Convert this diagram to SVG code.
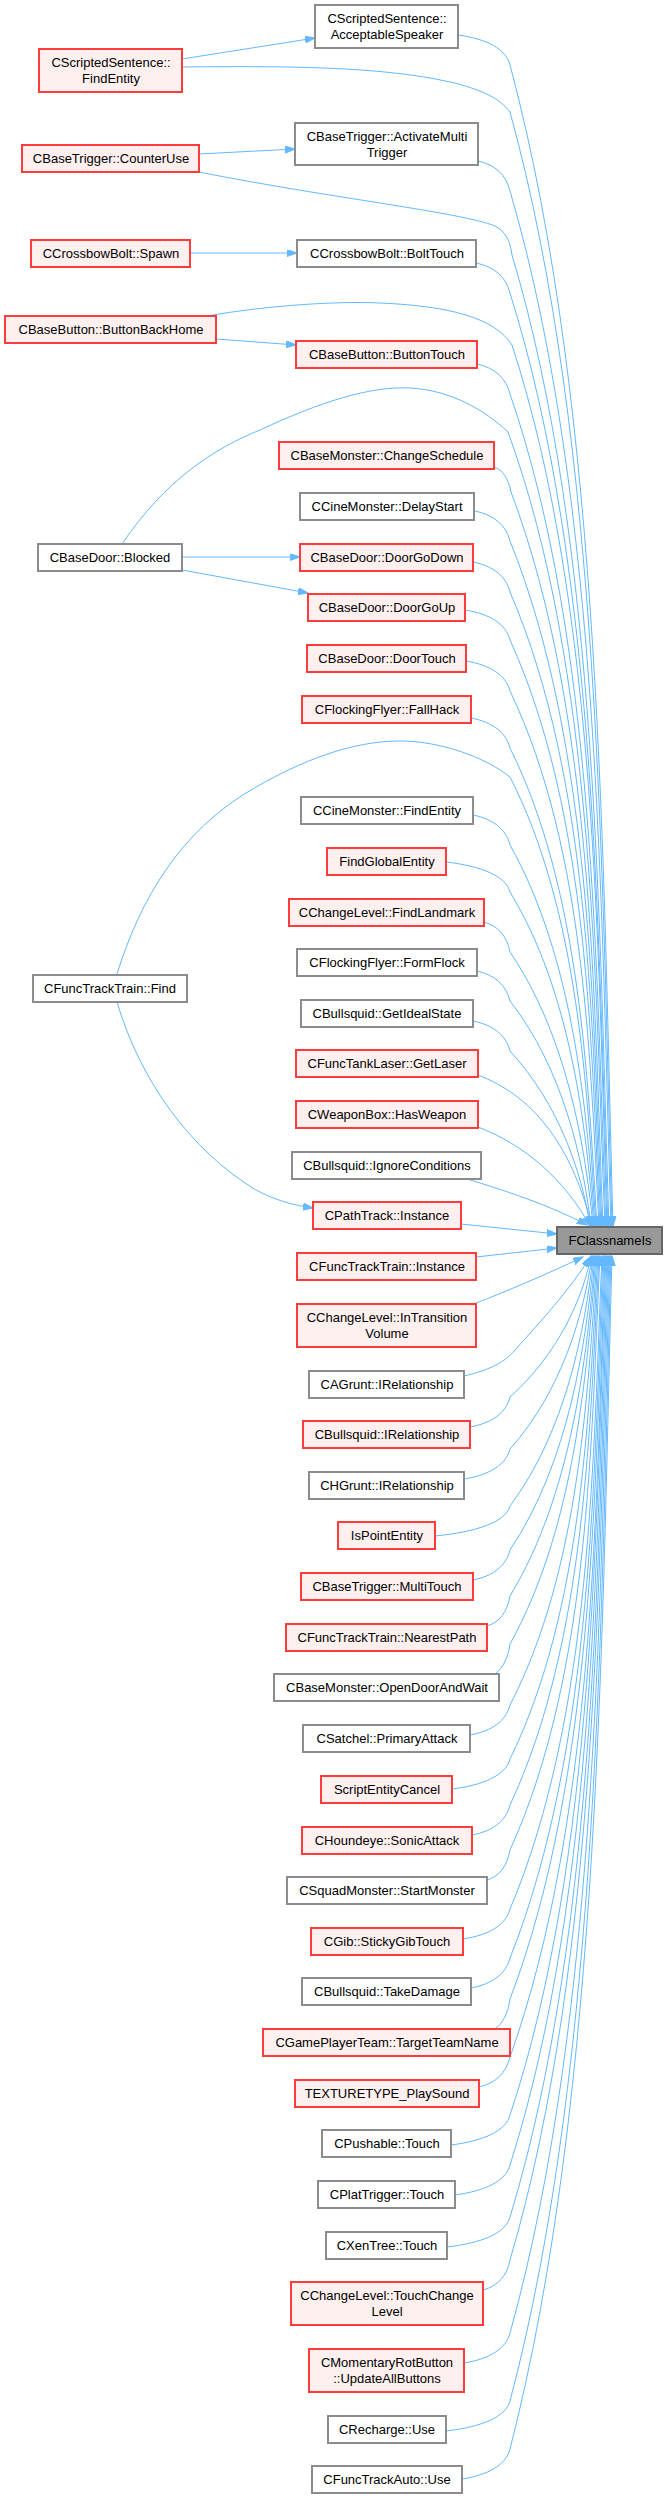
<svg xmlns="http://www.w3.org/2000/svg" width="664" height="2499" viewBox="0 0 664 2499">
<style>
.t{font-family:"Liberation Sans",Arial,sans-serif;font-size:13px;text-anchor:middle;fill:#000}
.r{fill:#fff0f0;stroke:#ff3b3b;stroke-width:2}
.g{fill:#ffffff;stroke:#8c8c8c;stroke-width:2}
.m{fill:#999999;stroke:#666666;stroke-width:2}
.e{fill:none;stroke:#63b8ff;stroke-width:1;marker-end:url(#ah)}
</style>
<defs>
<marker id="ah" markerWidth="12" markerHeight="9" refX="10" refY="3.5" orient="auto" markerUnits="userSpaceOnUse">
<path d="M0,0L10,3.5L0,7z" fill="#63b8ff" stroke="#63b8ff" stroke-width="1"/>
</marker>
</defs>
<rect width="664" height="2499" fill="#ffffff"/>
<g id="connectors">
<path class="e" d="M182,59 L315,38"/>
<path class="e" d="M199,154 L295,149"/>
<path class="e" d="M190,253 L297,253"/>
<path class="e" d="M216,339 L296,345"/>
<path class="e" d="M182,557 L300,557"/>
<path class="e" d="M182,570 L308,593"/>
<path class="e" d="M117,1002 C140,1080 190,1150 256,1190 C275,1200 292,1205 313,1208"/>
<path class="e" d="M458,35 C487,39 506,49 510,65 C603,413 603,878 613,1226"/>
<path class="e" d="M182,67 C280,66 380,66 450,82 C480,89 500,98 510,112 C602,446 602,892 612,1226"/>
<path class="e" d="M478,161 C496,165 506,175 510,191 C601,502 601,916 611,1226"/>
<path class="e" d="M199,172 C330,198 460,212 495,226 C505,231 510,240 512,255 C599,546 599,935 609,1226"/>
<path class="e" d="M476,263 C495,267 506,277 510,293 C598,573 598,946 608,1226"/>
<path class="e" d="M207,316 C270,305 340,301 380,303 C450,306 495,318 512,345 C598,609 598,962 607,1226"/>
<path class="e" d="M477,364 C495,368 506,378 510,394 C596,644 596,976 606,1226"/>
<path class="e" d="M122,544 C165,480 215,448 260,430 C320,402 370,386 410,388 C450,390 485,410 508,432 C595,670 595,988 605,1226"/>
<path class="e" d="M494,467 C503,470 508,478 511,492 C594,712 594,1006 603,1226"/>
<path class="e" d="M475,511 C494,515 506,525 510,541 C593,747 593,1021 602,1226"/>
<path class="e" d="M473,562 C493,566 506,576 510,592 C592,782 592,1036 601,1226"/>
<path class="e" d="M465,610 C490,614 506,624 510,640 C590,816 591,1050 600,1226"/>
<path class="e" d="M466,661 C490,665 506,675 510,691 C587,852 590,1066 599,1226"/>
<path class="e" d="M471,718 C492,722 506,732 510,748 C581,891 588,1083 597,1226"/>
<path class="e" d="M117,974 C140,900 180,830 256,787 C300,762 350,741 400,741 C440,741 485,757 510,777 C579,912 587,1091 596,1226"/>
<path class="e" d="M473,815 C493,819 506,829 510,845 C574,959 587,1112 595,1226"/>
<path class="e" d="M446,862 C481,866 506,876 510,892 C571,992 586,1126 594,1226"/>
<path class="e" d="M484,922 C498,926 507,936 510,952 C566,1034 585,1144 593,1226"/>
<path class="e" d="M477,971 C495,975 506,985 510,1001 C563,1069 583,1159 591,1226"/>
<path class="e" d="M473,1021 C493,1025 506,1035 510,1051 C559,1104 582,1173 590,1226"/>
<path class="e" d="M478,1075 C530,1095 570,1140 592,1226"/>
<path class="e" d="M478,1127 C525,1145 565,1180 590,1226"/>
<path class="e" d="M467,1179 C500,1189 550,1205 587,1225"/>
<path class="e" d="M461,1224 L557,1234"/>
<path class="e" d="M476,1257 L557,1248"/>
<path class="e" d="M476,1303 C505,1292 545,1275 583,1257"/>
<path class="e" d="M464,1376 C490,1370 505,1362 515,1350 C540,1322 570,1290 590,1257"/>
<path class="e" d="M470,1427 C492,1423 506,1413 510,1397 C558,1354 583,1298 591,1256"/>
<path class="e" d="M464,1479 C489,1475 506,1465 510,1449 C562,1391 584,1313 592,1256"/>
<path class="e" d="M435,1536 C476,1532 506,1522 510,1506 C566,1431 585,1330 593,1256"/>
<path class="e" d="M473,1580 C493,1576 506,1566 510,1550 C569,1462 586,1344 594,1256"/>
<path class="e" d="M487,1626 C500,1622 507,1612 510,1596 C572,1494 587,1357 595,1256"/>
<path class="e" d="M495,1674 C503,1668 508,1658 510,1644 C575,1527 587,1372 596,1256"/>
<path class="e" d="M470,1735 C492,1731 506,1721 510,1705 C580,1570 588,1390 597,1256"/>
<path class="e" d="M452,1789 C484,1785 506,1775 510,1759 C584,1608 589,1406 598,1256"/>
<path class="e" d="M472,1835 C493,1831 506,1821 510,1805 C587,1640 590,1420 599,1256"/>
<path class="e" d="M487,1880 C500,1876 507,1866 510,1850 C591,1672 591,1434 600,1256"/>
<path class="e" d="M463,1939 C489,1935 506,1925 510,1909 C593,1713 593,1451 602,1256"/>
<path class="e" d="M471,1988 C492,1984 506,1974 510,1958 C594,1747 594,1466 603,1256"/>
<path class="e" d="M495,2029 C503,2023 508,2013 510,1999 C595,1776 595,1478 604,1256"/>
<path class="e" d="M479,2087 C496,2083 506,2073 510,2057 C596,1816 596,1496 605,1256"/>
<path class="e" d="M451,2145 C483,2141 506,2131 510,2115 C596,1857 596,1513 606,1256"/>
<path class="e" d="M455,2195 C485,2191 506,2181 510,2165 C597,1892 597,1528 607,1256"/>
<path class="e" d="M447,2247 C482,2243 506,2233 510,2217 C598,1928 598,1544 608,1256"/>
<path class="e" d="M483,2290 C498,2286 507,2276 510,2260 C599,1958 599,1557 609,1256"/>
<path class="e" d="M464,2363 C489,2359 506,2349 510,2333 C600,2010 600,1578 610,1256"/>
<path class="e" d="M446,2431 C481,2427 506,2417 510,2401 C601,2057 601,1599 611,1256"/>
<path class="e" d="M462,2479 C488,2475 506,2465 510,2449 C602,2091 602,1613 612,1256"/>
</g>
<g id="nodes">
<g id="n_FClassnameIs"><rect class="m" x="557" y="1227" width="105" height="27"/><text class="t" x="610" y="1245">FClassnameIs</text></g>
<g id="n_SS_FindEntity"><rect class="r" x="39" y="49" width="143" height="43"/><text class="t" x="111" y="67">CScriptedSentence::</text><text class="t" x="111" y="83">FindEntity</text></g>
<g id="n_CounterUse"><rect class="r" x="22" y="145" width="177" height="27"/><text class="t" x="111" y="163">CBaseTrigger::CounterUse</text></g>
<g id="n_CrossbowSpawn"><rect class="r" x="31" y="240" width="159" height="27"/><text class="t" x="111" y="258">CCrossbowBolt::Spawn</text></g>
<g id="n_ButtonBackHome"><rect class="r" x="5" y="316" width="211" height="27"/><text class="t" x="111" y="334">CBaseButton::ButtonBackHome</text></g>
<g id="n_Blocked"><rect class="g" x="38" y="544" width="144" height="27"/><text class="t" x="110" y="562">CBaseDoor::Blocked</text></g>
<g id="n_Find"><rect class="g" x="33" y="975" width="154" height="27"/><text class="t" x="110" y="993">CFuncTrackTrain::Find</text></g>
<g id="n_AcceptableSpeaker"><rect class="g" x="315" y="5" width="143" height="43"/><text class="t" x="387" y="23">CScriptedSentence::</text><text class="t" x="387" y="39">AcceptableSpeaker</text></g>
<g id="n_ActivateMultiTrigger"><rect class="g" x="295" y="123" width="183" height="42"/><text class="t" x="387" y="141">CBaseTrigger::ActivateMulti</text><text class="t" x="387" y="157">Trigger</text></g>
<g id="n_BoltTouch"><rect class="g" x="297" y="240" width="179" height="27"/><text class="t" x="387" y="258">CCrossbowBolt::BoltTouch</text></g>
<g id="n_ButtonTouch"><rect class="r" x="296" y="341" width="181" height="27"/><text class="t" x="387" y="359">CBaseButton::ButtonTouch</text></g>
<g id="n_ChangeSchedule"><rect class="r" x="279" y="442" width="215" height="27"/><text class="t" x="387" y="460">CBaseMonster::ChangeSchedule</text></g>
<g id="n_DelayStart"><rect class="g" x="300" y="493" width="174" height="27"/><text class="t" x="387" y="511">CCineMonster::DelayStart</text></g>
<g id="n_DoorGoDown"><rect class="r" x="300" y="544" width="173" height="27"/><text class="t" x="387" y="562">CBaseDoor::DoorGoDown</text></g>
<g id="n_DoorGoUp"><rect class="r" x="308" y="594" width="157" height="27"/><text class="t" x="387" y="612">CBaseDoor::DoorGoUp</text></g>
<g id="n_DoorTouch"><rect class="r" x="307" y="645" width="159" height="27"/><text class="t" x="387" y="663">CBaseDoor::DoorTouch</text></g>
<g id="n_FallHack"><rect class="r" x="302" y="696" width="169" height="27"/><text class="t" x="387" y="714">CFlockingFlyer::FallHack</text></g>
<g id="n_CM_FindEntity"><rect class="g" x="301" y="797" width="172" height="27"/><text class="t" x="387" y="815">CCineMonster::FindEntity</text></g>
<g id="n_FindGlobalEntity"><rect class="r" x="327" y="848" width="119" height="27"/><text class="t" x="387" y="866">FindGlobalEntity</text></g>
<g id="n_FindLandmark"><rect class="r" x="289" y="899" width="195" height="27"/><text class="t" x="387" y="917">CChangeLevel::FindLandmark</text></g>
<g id="n_FormFlock"><rect class="g" x="297" y="949" width="180" height="27"/><text class="t" x="387" y="967">CFlockingFlyer::FormFlock</text></g>
<g id="n_GetIdealState"><rect class="g" x="301" y="1000" width="172" height="27"/><text class="t" x="387" y="1018">CBullsquid::GetIdealState</text></g>
<g id="n_GetLaser"><rect class="r" x="296" y="1050" width="182" height="27"/><text class="t" x="387" y="1068">CFuncTankLaser::GetLaser</text></g>
<g id="n_HasWeapon"><rect class="r" x="296" y="1101" width="182" height="27"/><text class="t" x="387" y="1119">CWeaponBox::HasWeapon</text></g>
<g id="n_IgnoreConditions"><rect class="g" x="292" y="1152" width="189" height="27"/><text class="t" x="387" y="1170">CBullsquid::IgnoreConditions</text></g>
<g id="n_PathTrack_Instance"><rect class="r" x="313" y="1202" width="148" height="27"/><text class="t" x="387" y="1220">CPathTrack::Instance</text></g>
<g id="n_FuncTrackTrain_Instance"><rect class="r" x="297" y="1253" width="179" height="27"/><text class="t" x="387" y="1271">CFuncTrackTrain::Instance</text></g>
<g id="n_InTransitionVolume"><rect class="r" x="297" y="1304" width="179" height="43"/><text class="t" x="387" y="1322">CChangeLevel::InTransition</text><text class="t" x="387" y="1338">Volume</text></g>
<g id="n_AGrunt_IRelationship"><rect class="g" x="309" y="1371" width="155" height="27"/><text class="t" x="387" y="1389">CAGrunt::IRelationship</text></g>
<g id="n_Bullsquid_IRelationship"><rect class="r" x="303" y="1421" width="167" height="27"/><text class="t" x="387" y="1439">CBullsquid::IRelationship</text></g>
<g id="n_HGrunt_IRelationship"><rect class="g" x="309" y="1472" width="155" height="27"/><text class="t" x="387" y="1490">CHGrunt::IRelationship</text></g>
<g id="n_IsPointEntity"><rect class="r" x="338" y="1522" width="97" height="27"/><text class="t" x="387" y="1540">IsPointEntity</text></g>
<g id="n_MultiTouch"><rect class="r" x="301" y="1573" width="172" height="27"/><text class="t" x="387" y="1591">CBaseTrigger::MultiTouch</text></g>
<g id="n_NearestPath"><rect class="r" x="286" y="1624" width="201" height="27"/><text class="t" x="387" y="1642">CFuncTrackTrain::NearestPath</text></g>
<g id="n_OpenDoorAndWait"><rect class="g" x="274" y="1674" width="225" height="27"/><text class="t" x="387" y="1692">CBaseMonster::OpenDoorAndWait</text></g>
<g id="n_PrimaryAttack"><rect class="g" x="303" y="1725" width="167" height="27"/><text class="t" x="387" y="1743">CSatchel::PrimaryAttack</text></g>
<g id="n_ScriptEntityCancel"><rect class="r" x="321" y="1776" width="131" height="27"/><text class="t" x="387" y="1794">ScriptEntityCancel</text></g>
<g id="n_SonicAttack"><rect class="r" x="302" y="1827" width="170" height="27"/><text class="t" x="387" y="1845">CHoundeye::SonicAttack</text></g>
<g id="n_StartMonster"><rect class="g" x="287" y="1877" width="200" height="27"/><text class="t" x="387" y="1895">CSquadMonster::StartMonster</text></g>
<g id="n_StickyGibTouch"><rect class="r" x="311" y="1928" width="152" height="27"/><text class="t" x="387" y="1946">CGib::StickyGibTouch</text></g>
<g id="n_TakeDamage"><rect class="g" x="302" y="1978" width="169" height="27"/><text class="t" x="387" y="1996">CBullsquid::TakeDamage</text></g>
<g id="n_TargetTeamName"><rect class="r" x="263" y="2029" width="247" height="27"/><text class="t" x="387" y="2047">CGamePlayerTeam::TargetTeamName</text></g>
<g id="n_TEXTURETYPE_PlaySound"><rect class="r" x="295" y="2080" width="184" height="27"/><text class="t" x="387" y="2098">TEXTURETYPE_PlaySound</text></g>
<g id="n_Pushable_Touch"><rect class="g" x="322" y="2130" width="129" height="27"/><text class="t" x="387" y="2148">CPushable::Touch</text></g>
<g id="n_PlatTrigger_Touch"><rect class="g" x="318" y="2181" width="137" height="27"/><text class="t" x="387" y="2199">CPlatTrigger::Touch</text></g>
<g id="n_XenTree_Touch"><rect class="g" x="326" y="2232" width="121" height="27"/><text class="t" x="387" y="2250">CXenTree::Touch</text></g>
<g id="n_TouchChangeLevel"><rect class="r" x="291" y="2282" width="192" height="43"/><text class="t" x="387" y="2300">CChangeLevel::TouchChange</text><text class="t" x="387" y="2316">Level</text></g>
<g id="n_UpdateAllButtons"><rect class="r" x="309" y="2349" width="155" height="43"/><text class="t" x="387" y="2367">CMomentaryRotButton</text><text class="t" x="387" y="2383">::UpdateAllButtons</text></g>
<g id="n_Recharge_Use"><rect class="g" x="328" y="2416" width="118" height="27"/><text class="t" x="387" y="2434">CRecharge::Use</text></g>
<g id="n_FuncTrackAuto_Use"><rect class="g" x="312" y="2466" width="150" height="27"/><text class="t" x="387" y="2484">CFuncTrackAuto::Use</text></g>
</g>
</svg>
